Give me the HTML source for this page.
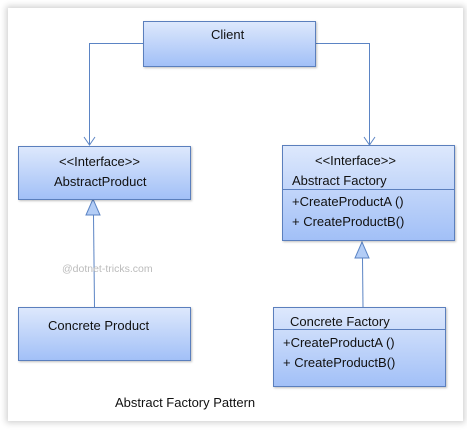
<!DOCTYPE html>
<html><head><style>
body{margin:0;width:467px;height:432px;background:#fff;position:relative;overflow:hidden;font-family:"Liberation Sans",sans-serif;font-size:13px;color:#111}
.panel{position:absolute;left:8px;top:8px;width:455px;height:413px;background:#fff;box-shadow:0 0 6px 2px rgba(0,0,0,0.18)}
.b{position:absolute;box-sizing:border-box;border:1px solid #5b7fbd;background:linear-gradient(#dde8fc,#a2c0f7);box-shadow:1px 1px 2px rgba(0,0,0,0.25)}
.t{position:absolute;white-space:nowrap;line-height:15px}
.d{position:absolute;left:0;right:0;border-top:1px solid #5b7fbd}
</style></head><body>
<div class="panel"></div>
<svg style="position:absolute;left:0;top:0" width="467" height="432">
<g stroke="#5b84c4" stroke-width="1" fill="none">
<polyline points="143,43.5 89.5,43.5 89.5,145"/>
<polyline points="84,137 89.5,145 95,137"/>
<polyline points="315,43.5 369.5,43.5 369.5,145"/>
<polyline points="364,137 369.5,145 375,137"/>
<line x1="93.5" y1="215" x2="94.5" y2="307"/>
<line x1="362.5" y1="258" x2="363" y2="307"/>
</g>
<polygon points="93,199 86,215 100,215" fill="#b3cdf6" stroke="#5b84c4"/>
<polygon points="362,242 355,258 369,258" fill="#b3cdf6" stroke="#5b84c4"/>
</svg>
<div class="b" style="left:143px;top:21px;width:173px;height:46px"><div class="t" style="left:67px;top:5px">Client</div></div>
<div class="b" style="left:18px;top:146px;width:173px;height:54px"><div class="t" style="left:40px;top:7px">&lt;&lt;Interface&gt;&gt;</div><div class="t" style="left:35px;top:27px">AbstractProduct</div></div>
<div class="b" style="left:282px;top:145px;width:173px;height:96px">
<div class="t" style="left:32px;top:7px">&lt;&lt;Interface&gt;&gt;</div><div class="t" style="left:9px;top:27px">Abstract Factory</div>
<div class="d" style="top:43px"></div>
<div class="t" style="left:9px;top:48px">+CreateProductA ()</div><div class="t" style="left:9px;top:68px">+ CreateProductB()</div></div>
<div class="b" style="left:18px;top:307px;width:173px;height:54px"><div class="t" style="left:29px;top:10px">Concrete Product</div></div>
<div class="b" style="left:273px;top:307px;width:173px;height:80px">
<div class="t" style="left:16px;top:6px">Concrete Factory</div>
<div class="d" style="top:21px"></div>
<div class="t" style="left:9px;top:27px">+CreateProductA ()</div><div class="t" style="left:9px;top:47px">+ CreateProductB()</div></div>
<div class="t" style="left:62px;top:262px;color:#bbb;font-size:10.5px">@dotnet-tricks.com</div>
<div class="t" style="left:115px;top:395px">Abstract Factory Pattern</div>
</body></html>
